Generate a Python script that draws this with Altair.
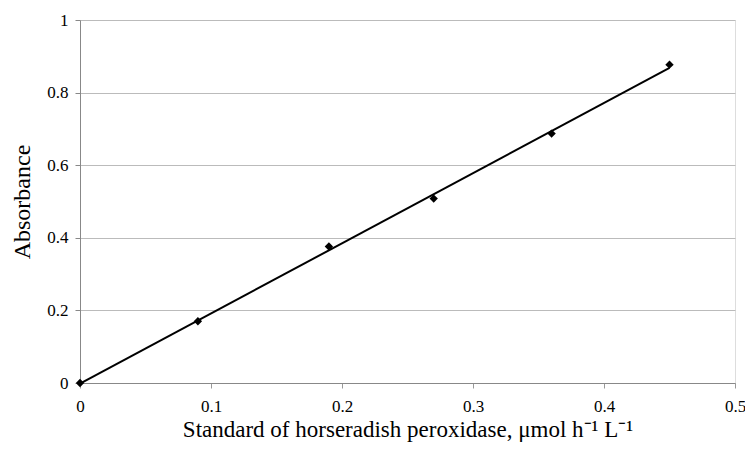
import altair as alt
import pandas as pd

conc = [0, 0.09, 0.19, 0.27, 0.36, 0.45]
absorbance = [0, 0.17, 0.376, 0.508, 0.687, 0.877]

df = pd.DataFrame({"x": conc, "y": absorbance})

FONT = "Times New Roman"

xenc = alt.X("x:Q", scale=alt.Scale(domain=[0, 0.5], nice=False),
             axis=alt.Axis(title="Standard of horseradish peroxidase, \u03bcmol h\u207b\u00b9 L\u207b\u00b9",
                           values=[0, 0.1, 0.2, 0.3, 0.4, 0.5], grid=False, format="~g",
                           labelFont=FONT, labelFontSize=17, labelColor="black",
                           titleFont=FONT, titleFontSize=23, titleFontWeight="normal", titleColor="black",
                           labelPadding=10, titlePadding=4, tickSize=5, tickColor="#999",
                           domainColor="#888", labelFlush=False))
yenc = alt.Y("y:Q", scale=alt.Scale(domain=[0, 1], nice=False),
             axis=alt.Axis(title="Absorbance", values=[0, 0.2, 0.4, 0.6, 0.8, 1],
                           grid=True, gridColor="#bbbbbb", format="~g",
                           labelFont=FONT, labelFontSize=17, labelColor="black",
                           titleFont=FONT, titleFontSize=24, titleFontWeight="normal", titleColor="black",
                           labelPadding=7, titlePadding=12, tickSize=5, tickColor="#888",
                           domainColor="#888", labelFlush=False))

base = alt.Chart(df)

line = base.transform_regression("x", "y").mark_line(color="black", strokeWidth=2).encode(x=xenc, y=yenc)
pts = base.mark_point(shape="diamond", filled=True, color="black", size=70, opacity=1).encode(x=xenc, y=yenc)

chart = (line + pts).properties(
    width=655, height=363,
    autosize=alt.AutoSizeParams(type="none"),
    padding={"left": 72, "top": 12, "right": 10, "bottom": 61},
).configure_view(stroke="#999", strokeWidth=1).configure(background="white")

chart.save("out.html", embed_options={"renderer": "svg", "actions": False})
